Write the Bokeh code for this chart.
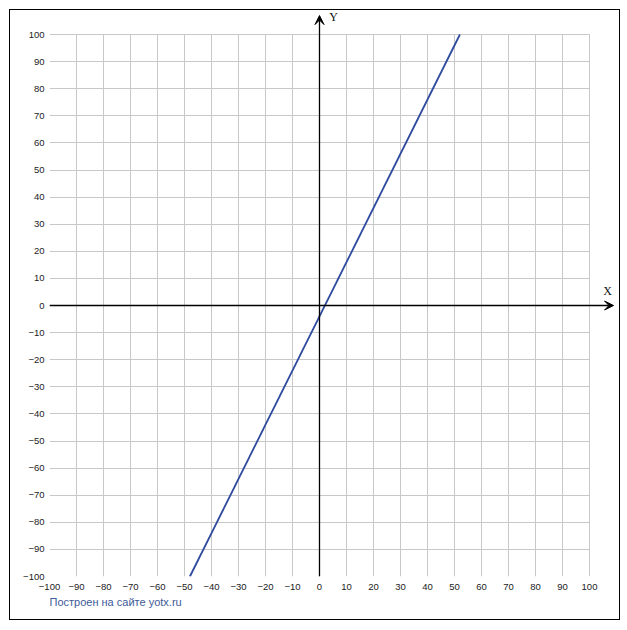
from bokeh.plotting import figure
from bokeh.models import Range1d, FixedTicker, Arrow, VeeHead, Label
from bokeh.embed import file_html
from bokeh.resources import INLINE

# data
ticks = list(range(-100, 101, 10))
line_x = [-48, 52]
line_y = [-100, 100]
footer_text = "Построен на сайте yotx.ru"

p = figure(frame_width=570, frame_height=566,
           x_range=Range1d(-100, 111.11), y_range=Range1d(-100, 108.86),
           output_backend="svg", toolbar_location=None,
           title=footer_text, title_location="below",
           min_border_left=39, min_border_right=0, min_border_top=0, min_border_bottom=43)
p.styles = {"border": "1px solid black", "margin": "9px 0 0 9px"}
p.background_fill_color = "white"
p.border_fill_color = "white"
p.outline_line_color = None

p.title.align = "left"
p.title.text_font = "Liberation Sans"
p.title.text_font_size = "11px"
p.title.text_font_style = "normal"
p.title.text_color = "#3d5a98"
p.title.standoff = 2

for ax in (p.xaxis[0], p.yaxis[0]):
    ax.ticker = FixedTicker(ticks=ticks)
    ax.axis_line_color = None
    ax.major_tick_line_color = None
    ax.minor_tick_line_color = None
    ax.major_tick_out = 0
    ax.major_tick_in = 0
    ax.major_label_text_font = "Liberation Sans"
    ax.major_label_text_font_size = "9.5px"
    ax.major_label_text_color = "#222222"
p.yaxis[0].major_label_standoff = 5
p.xaxis[0].major_label_standoff = 7

use_grid = hasattr(p.xgrid[0], "cross_bounds")
for g in (p.xgrid[0], p.ygrid[0]):
    g.ticker = FixedTicker(ticks=ticks)
    g.bounds = (-100, 100)
    g.grid_line_color = "#c8c8c8"
    g.grid_line_width = 1
    if use_grid:
        g.cross_bounds = (-100, 100)
    else:
        g.visible = False
if not use_grid:
    lo = [-100] * len(ticks)
    hi = [100] * len(ticks)
    p.segment(x0=ticks, y0=lo, x1=ticks, y1=hi, line_color="#c8c8c8", line_width=1)
    p.segment(x0=lo, y0=ticks, x1=hi, y1=ticks, line_color="#c8c8c8", line_width=1)

# axes with arrows
p.add_layout(Arrow(x_start=-100, y_start=0, x_end=108.9, y_end=0,
                   line_color="black", line_width=1.3,
                   end=VeeHead(size=9, fill_color="black", line_color="black")))
p.add_layout(Arrow(x_start=0, y_start=-100, x_end=0, y_end=107.0,
                   line_color="black", line_width=1.3,
                   end=VeeHead(size=9, fill_color="black", line_color="black")))

p.line(line_x, line_y, line_color="#2e4a9e", line_width=1.8)

p.add_layout(Label(x=106.7, y=5.5, text="X", text_font="Liberation Serif",
                   text_font_size="12px", text_align="center", text_baseline="middle",
                   text_color="#111111"))
p.add_layout(Label(x=5.2, y=106.3, text="Y", text_font="Liberation Serif",
                   text_font_size="12px", text_align="center", text_baseline="middle",
                   text_color="#111111"))

open("out.html", "w").write(file_html(p, INLINE))
